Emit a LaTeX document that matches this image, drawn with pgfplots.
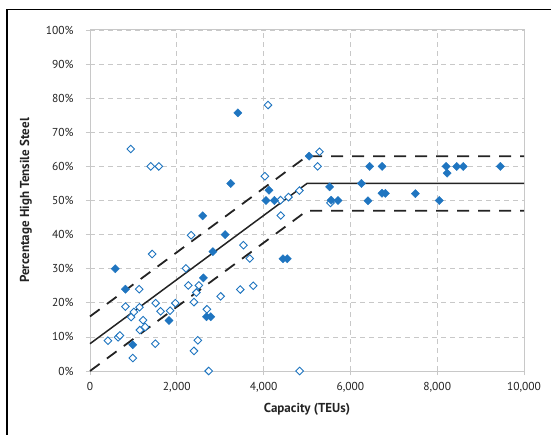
\documentclass[border=0pt]{standalone}
\usepackage{pgfplots}
\pgfplotsset{compat=1.18}
\usepackage{fontspec}
\setmainfont{PT Sans}
\definecolor{ptblue}{RGB}{31,117,192}
\definecolor{gridgray}{RGB}{200,200,200}
\definecolor{txt}{RGB}{35,35,35}
\begin{document}
\begin{tikzpicture}[x=1pt,y=1pt]
\useasboundingbox (0,0) rectangle (551,434);
\draw[line width=1.3pt, black] (7,-5) -- (7,424.5) -- (560,424.5);
\begin{axis}[
  at={(90pt,63pt)}, anchor=south west,
  scale only axis, width=434pt, height=341pt,
  xmin=0, xmax=10000, ymin=0, ymax=100,
  xtick={0,2000,...,10000}, ytick={0,10,...,100},
  grid=major,
  major grid style={dash pattern=on 5pt off 4pt, color=gridgray, line width=0.8pt},
  axis line style={gridgray, line width=1pt},
  tick style={gridgray, line width=0.8pt},
  tick align=outside, major tick length=4pt,
  xtick pos=left, ytick pos=left,
  /pgf/number format/assume math mode=true,
  /pgf/number format/1000 sep={,},
  scaled x ticks=false,
  yticklabel={\pgfmathprintnumber{\tick}\%},
  tick label style={font=\fontsize{11.5}{13}\selectfont, text=txt},
  xticklabel style={yshift=-4pt},
  yticklabel style={xshift=-9pt},
  xlabel={Capacity (TEUs)},
  ylabel={Percentage High Tensile Steel},
  label style={font=\fontsize{13}{15}\selectfont\bfseries, text=txt},
  xlabel style={yshift=-4pt},
  ylabel style={yshift=7pt},
  clip=false,
]
\addplot[line width=1.5pt, color=txt] coordinates {(0,8) (5000,55) (10000,55)};
\addplot[line width=1.8pt, color=txt, dash pattern=on 12pt off 9pt] coordinates {(0,16) (5000,63) (10000,63)};
\addplot[line width=1.8pt, color=txt, dash pattern=on 12pt off 9pt] coordinates {(0,0) (5000,47) (10000,47)};
% open diamonds
\addplot[only marks, mark=square*, mark size=2.7pt, mark options={rotate=45, draw=ptblue, fill=white, line width=0.9pt}] coordinates {
(413,8.9) (647,9.9) (688,10.4) (817,18.9) (939,65.1) (947,15.8) (987,3.8)
(1011,17.3) (1133,24.0) (1141,18.7) (1149,12.0) (1222,14.9) (1270,12.9)
(1400,60.0) (1432,34.3) (1505,8.0) (1513,19.9) (1586,60.0) (1626,17.5)
(1845,17.7) (1966,19.9) (2209,30.1) (2265,25.1) (2330,39.8) (2395,20.2)
(2395,5.9) (2451,23.0) (2484,9.0) (2508,25.1) (2694,18.1) (2735,0)
(3010,21.9) (3463,23.9) (3536,36.9) (3681,33.0) (3762,25.0) (4029,57.1)
(4102,78.0) (4390,50.1) (4395,45.6) (4573,51.0) (4825,52.9) (4830,0)
(5245,60.0) (5288,64.3) (5540,49.3)
};
% filled diamonds
\addplot[only marks, mark=square*, mark size=2.9pt, mark options={rotate=45, draw=ptblue, fill=ptblue}] coordinates {
(583,30.0) (817,24.0) (987,7.7) (1820,14.8) (2597,45.5) (2613,27.3)
(2686,15.9) (2783,15.9) (2832,35.0) (3115,40.0) (3244,55.0) (3406,75.7)
(4053,50.0) (4126,53.0) (4248,50.0) (4446,32.9) (4545,32.9) (5050,63.0)
(5520,54.0) (5558,50.1) (5712,50.0) (6254,55.0) (6405,49.9) (6443,60.0)
(6731,60.0) (6728,52.1) (6806,52.1) (7496,52.0) (8048,50.0) (8206,60.0)
(8229,58.0) (8450,60.0) (8600,60.0) (9456,60.0)
};
\end{axis}
\end{tikzpicture}
\end{document}
